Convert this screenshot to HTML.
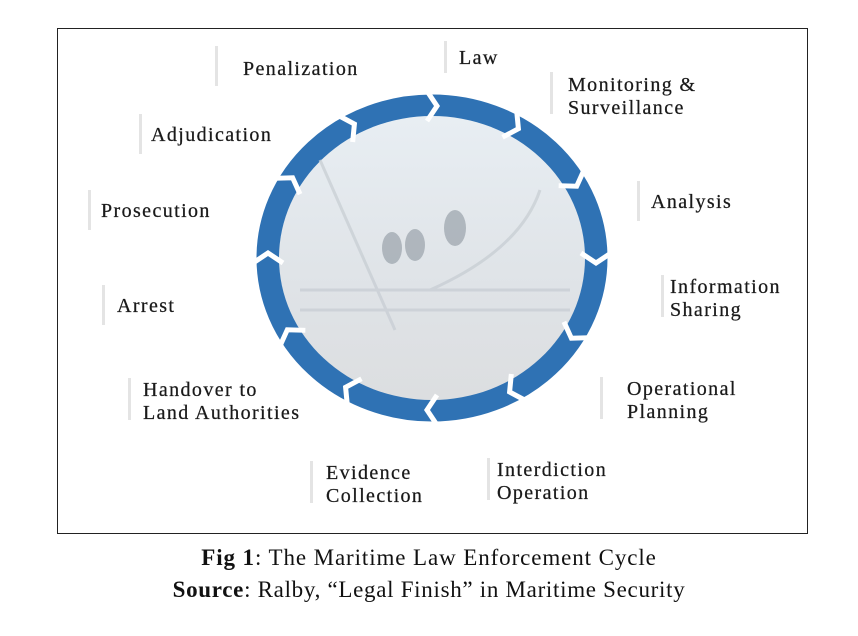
<!DOCTYPE html>
<html><head><meta charset="utf-8"><style>
body{margin:0;background:#fff;width:858px;height:636px;position:relative;overflow:hidden;font-family:"Liberation Serif",serif}
.frame{position:absolute;left:57px;top:28px;width:751px;height:506px;border:1.3px solid #222;box-sizing:border-box}
.l{position:absolute;font-size:20px;line-height:23px;color:#1a1a1a;letter-spacing:1.4px;white-space:nowrap;-webkit-text-stroke:0.25px #1a1a1a;margin-top:2px}
.b{position:absolute;width:3px;background:#e4e4e4}
.cap{position:absolute;left:0;width:858px;text-align:center;font-size:23px;color:#111;letter-spacing:0.9px}
</style></head><body>
<div class="frame"></div>
<svg width="858" height="636" style="position:absolute;left:0;top:0">
<defs><linearGradient id="g" x1="0" y1="0" x2="0" y2="1">
<stop offset="0" stop-color="#e8eef3"/><stop offset="0.6" stop-color="#dfe3e7"/><stop offset="1" stop-color="#dcdee0"/></linearGradient></defs>
<ellipse cx="432" cy="258" rx="164" ry="152" fill="none" stroke="#2f72b4" stroke-width="23"/>
<ellipse cx="432" cy="258" rx="153" ry="142" fill="url(#g)"/>
<g stroke="#c9cfd5" stroke-width="3" fill="none" opacity="0.8">
<line x1="320" y1="160" x2="395" y2="330"/>
<line x1="300" y1="290" x2="570" y2="290"/>
<line x1="300" y1="310" x2="570" y2="310"/>
<path d="M430 290 Q520 250 540 190"/>
</g>
<g fill="#9aa3ab" opacity="0.7">
<ellipse cx="392" cy="248" rx="10" ry="16"/><ellipse cx="415" cy="245" rx="10" ry="16"/><ellipse cx="455" cy="228" rx="11" ry="18"/>
</g>
<g id="ch" stroke="#fff" stroke-width="5" fill="none" stroke-linejoin="miter"></g>
</svg>
<script>
var g=document.getElementById('ch'),s='';
for(var i=0;i<12;i++){var a=(-90+30*i)*Math.PI/180;var x=432+164*Math.cos(a),y=258+152*Math.sin(a);
var tx=-164*Math.sin(a),ty=152*Math.cos(a);var ang=Math.atan2(ty,tx)*180/Math.PI;
s+='<polyline transform="translate('+x+','+y+') rotate('+ang+')" points="-5,-15 5,0 -5,15"/>';}
g.innerHTML=s;
</script>
<div class="b" style="left:215px;top:46px;height:40px"></div><div class="l" style="left:243px;top:56px">Penalization</div>
<div class="b" style="left:444px;top:41px;height:32px"></div><div class="l" style="left:459px;top:45px">Law</div>
<div class="b" style="left:550px;top:72px;height:42px"></div><div class="l" style="left:568px;top:72px">Monitoring &amp;<br>Surveillance</div>
<div class="b" style="left:637px;top:181px;height:40px"></div><div class="l" style="left:651px;top:189px">Analysis</div>
<div class="b" style="left:661px;top:275px;height:42px"></div><div class="l" style="left:670px;top:274px">Information<br>Sharing</div>
<div class="b" style="left:600px;top:377px;height:42px"></div><div class="l" style="left:627px;top:376px">Operational<br>Planning</div>
<div class="b" style="left:487px;top:458px;height:42px"></div><div class="l" style="left:497px;top:457px">Interdiction<br>Operation</div>
<div class="b" style="left:310px;top:461px;height:42px"></div><div class="l" style="left:326px;top:460px">Evidence<br>Collection</div>
<div class="b" style="left:128px;top:378px;height:42px"></div><div class="l" style="left:143px;top:377px">Handover to<br>Land Authorities</div>
<div class="b" style="left:102px;top:285px;height:40px"></div><div class="l" style="left:117px;top:293px">Arrest</div>
<div class="b" style="left:88px;top:190px;height:40px"></div><div class="l" style="left:101px;top:198px">Prosecution</div>
<div class="b" style="left:139px;top:114px;height:40px"></div><div class="l" style="left:151px;top:122px">Adjudication</div>
<div class="cap" style="top:545px"><b>Fig 1</b>: The Maritime Law Enforcement Cycle</div>
<div class="cap" style="top:577px;letter-spacing:0.7px"><b>Source</b>: Ralby, “Legal Finish” in Maritime Security</div>
</body></html>
